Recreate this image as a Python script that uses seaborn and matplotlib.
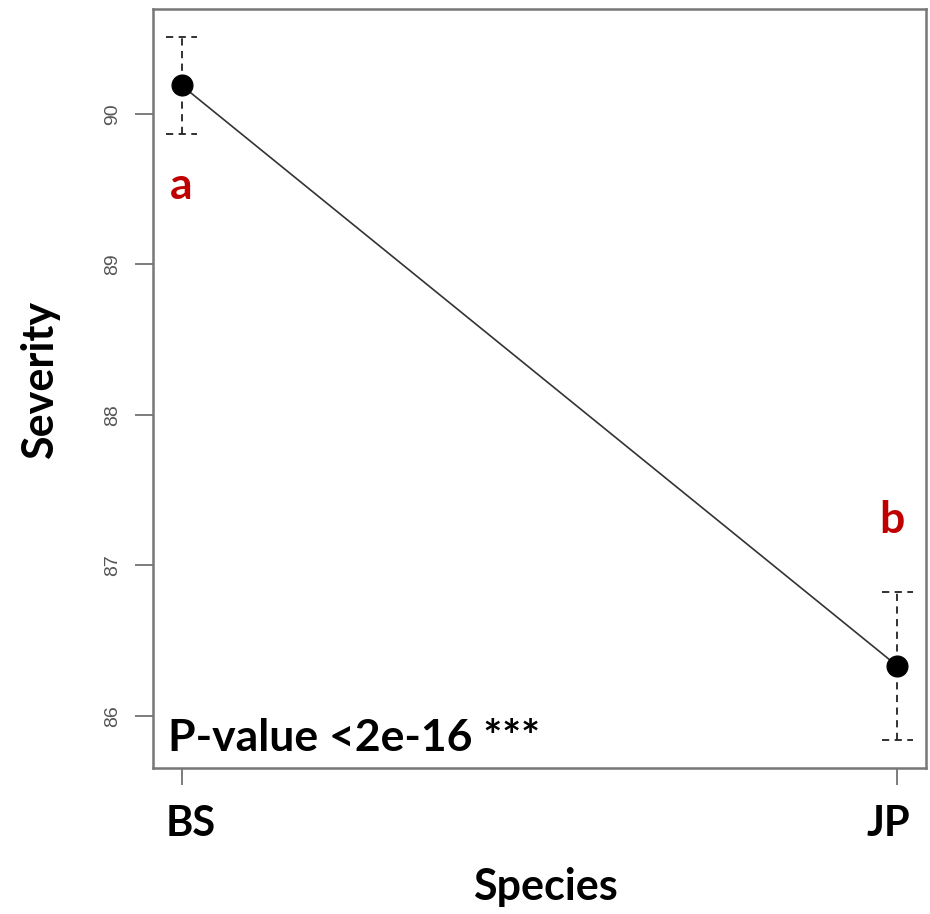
import matplotlib
matplotlib.use("Agg")
import matplotlib.pyplot as plt
import matplotlib.transforms as mtransforms
import seaborn as sns
import pandas as pd
import numpy as np

species = ["BS", "JP"]
severity_mean = [90.19, 86.33]
severity_err = [0.325, 0.49]
letters = ["a", "b"]
letter_offsets = [-0.67, 0.97]
pvalue_text = "P-value <2e-16 ***"
yticks = [86, 87, 88, 89, 90]

sns.set_style("white")
plt.rcParams["font.family"] = ["Lato", "DejaVu Sans"]
plt.rcParams["text.color"] = "black"
plt.rcParams["axes.labelcolor"] = "black"
plt.rcParams["xtick.color"] = "black"

df = pd.DataFrame({"Species": species, "Severity": severity_mean})

fig = plt.figure(figsize=(9.3, 9.14), dpi=100)
ax = fig.add_axes([153/930, 1-768/914, (926-153)/930, (768-9)/914])

xpos = np.arange(len(species))
mean = np.array(severity_mean)
err = np.array(severity_err)

# error bars (dashed) with dashed caps
ax.vlines(xpos, mean - err, mean + err, colors="#222222", linestyles=(0, (4, 3)), linewidth=1.3, zorder=1)
capw = 0.022
for lvl in (mean - err, mean + err):
    ax.hlines(lvl, xpos - capw, xpos + capw, colors="#222222", linestyles=(0, (4, 3)), linewidth=1.3, zorder=1)

sns.pointplot(data=df, x="Species", y="Severity", color="black", errorbar=None,
              markers="o", markersize=15, linewidth=1.2, ax=ax, zorder=3)
for ln in ax.lines:
    ln.set_color("#333333")
    ln.set_markerfacecolor("black")
    ln.set_markeredgecolor("black")

ax.set_xlim(-0.04, 1.04)
ax.set_ylim(85.652, 90.698)
ax.set_yticks(yticks)
ax.set_yticklabels([str(t) for t in yticks], rotation=90, va="center",
                   fontfamily=["Liberation Sans"], fontsize=14, color="#555555")
ax.set_xticks(xpos)
ax.set_xticklabels(species, fontsize=30, fontweight="bold", color="black")
ax.tick_params(axis="y", length=13, width=1.2, color="#666666", pad=10, left=True)
ax.tick_params(axis="x", length=12, width=1.2, color="#666666", pad=15, bottom=True)

shifts = [9, -9]
for lab, dx in zip(ax.get_xticklabels(), shifts):
    lab.set_transform(lab.get_transform() + mtransforms.ScaledTranslation(dx / 100, 0, fig.dpi_scale_trans))

for s in ax.spines.values():
    s.set_color("#777777")
    s.set_linewidth(1.8)

ax.set_xlabel("Species", fontsize=31, fontweight="bold")
ax.set_ylabel("Severity", fontsize=31, fontweight="bold")
ax.xaxis.set_label_coords(0.508, (768 - 887) / 759)
ax.xaxis.label.set_va("center")
ax.yaxis.set_label_coords((40 - 153) / 773, 0.511)
ax.yaxis.label.set_va("center")

for x, m, lt, off in zip(xpos, mean, letters, letter_offsets):
    ax.text(x + (0.0 if x == 0 else -0.007), m + off, lt,
            color="#C00000", fontsize=32, fontweight="bold", ha="center", va="center")

ax.text(0.019, 0.04, pvalue_text, transform=ax.transAxes, fontsize=32,
        fontweight="bold", ha="left", va="center")

fig.savefig("out.png", dpi=100)
